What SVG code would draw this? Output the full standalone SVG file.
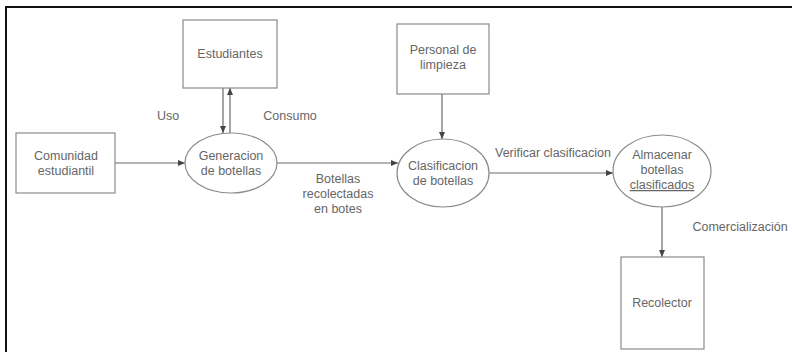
<svg xmlns="http://www.w3.org/2000/svg" width="792" height="352" viewBox="0 0 792 352">
<defs>
<marker id="arr" markerWidth="8" markerHeight="8" refX="7" refY="4" orient="auto" markerUnits="userSpaceOnUse">
<path d="M0,1 L7,4 L0,7 Z" fill="#444"/>
</marker>
</defs>
<style>
.box{fill:#fff;stroke:#8a8a8a;stroke-width:1.2}
.t{font-family:"Liberation Sans",Arial,sans-serif;font-size:12.5px;fill:#666;text-anchor:middle}
.c{fill:none;stroke:#6a6a6a;stroke-width:1.2}
.frame{fill:none;stroke:#111;stroke-width:2}
</style>
<rect width="792" height="352" fill="#fff"/>
<path class="frame" d="M6,352 L6,7 L792,7"/>
<g id="connectors">
<line class="c" x1="115" y1="163" x2="185" y2="163" marker-end="url(#arr)"/>
<line class="c" x1="223" y1="88" x2="223" y2="133" marker-end="url(#arr)"/>
<line class="c" x1="230" y1="133" x2="230" y2="88" marker-end="url(#arr)"/>
<line class="c" x1="277" y1="163" x2="398" y2="163" marker-end="url(#arr)"/>
<line class="c" x1="442" y1="94" x2="442" y2="139" marker-end="url(#arr)"/>
<line class="c" x1="489" y1="173" x2="613" y2="173" marker-end="url(#arr)"/>
<line class="c" x1="662" y1="207" x2="662" y2="257" marker-end="url(#arr)"/>
<text class="t" x="168" y="120">Uso</text>
<text class="t" x="290" y="120">Consumo</text>
<text class="t" x="338" y="183">Botellas</text>
<text class="t" x="338" y="198">recolectadas</text>
<text class="t" x="338" y="213">en botes</text>
<text class="t" x="553" y="157">Verificar clasificacion</text>
<text class="t" x="740" y="231">Comercialización</text>
</g>
<g id="estudiantes">
<rect class="box" x="183" y="20" width="94" height="68"/>
<text class="t" x="230" y="58">Estudiantes</text>
</g>
<g id="personal">
<rect class="box" x="397" y="24" width="92" height="70"/>
<text class="t" x="443" y="54">Personal de</text>
<text class="t" x="443" y="69">limpieza</text>
</g>
<g id="comunidad">
<rect class="box" x="16" y="133" width="99" height="60"/>
<text class="t" x="66" y="160">Comunidad</text>
<text class="t" x="66" y="175">estudiantil</text>
</g>
<g id="generacion">
<ellipse class="box" cx="231" cy="163" rx="46" ry="30"/>
<text class="t" x="231" y="160">Generacion</text>
<text class="t" x="231" y="175">de botellas</text>
</g>
<g id="clasificacion">
<ellipse class="box" cx="443" cy="173" rx="46" ry="34"/>
<text class="t" x="443" y="170">Clasificacion</text>
<text class="t" x="443" y="185">de botellas</text>
</g>
<g id="almacenar">
<ellipse class="box" cx="662" cy="171" rx="49" ry="36"/>
<text class="t" x="662" y="159">Almacenar</text>
<text class="t" x="662" y="174">botellas</text>
<text class="t" x="662" y="189" text-decoration="underline">clasificados</text>
</g>
<g id="recolector">
<rect class="box" x="621" y="257" width="83" height="92"/>
<text class="t" x="662" y="307">Recolector</text>
</g>
</svg>
